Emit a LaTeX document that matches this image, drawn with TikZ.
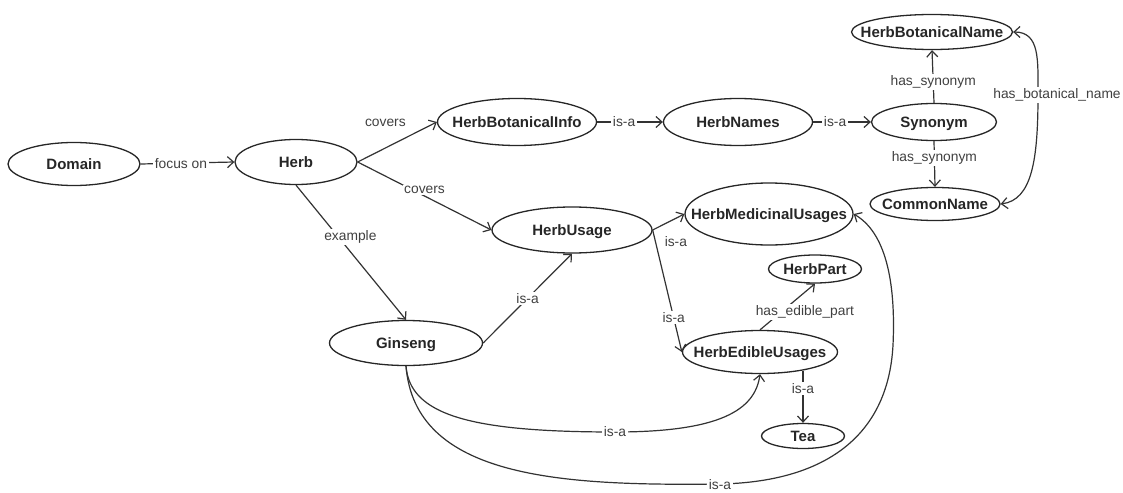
\documentclass[tikz,border=0pt]{standalone}
\usepackage{fontspec}
\setmainfont{Liberation Sans}
\usetikzlibrary{arrows.meta,shapes.geometric}
\newcommand{\nt}[1]{\makebox[0pt]{\raisebox{-.36em}[0pt][0pt]{#1}}}
\begin{document}
\begin{tikzpicture}[x=1pt,y=-1pt,
 onode/.style={draw=black!85, ellipse, inner sep=0pt, line width=1.3pt, font=\fontsize{15}{17}\selectfont\bfseries, text=black!85},
 edge/.style={draw=black!80, line width=1.2pt, -{Straight Barb[length=6pt,width=11pt]}},
 edgetwo/.style={draw=black!80, line width=1.2pt, {Straight Barb[length=6pt,width=11pt]}-{Straight Barb[length=6pt,width=11pt]}},
 lab/.style={fill=white, inner sep=1.5pt, font=\fontsize{13.8}{15}\selectfont, text=black!75},
]
\useasboundingbox (0,0) rectangle (1123,492);
\node[onode, minimum width=132pt, minimum height=43pt] (domain) at (74,164) {\nt{Domain}};
\node[onode, minimum width=122pt, minimum height=45pt] (herb) at (296,162) {\nt{Herb}};
\node[onode, minimum width=159pt, minimum height=47pt] (hbi) at (517,122) {\nt{HerbBotanicalInfo}};
\node[onode, minimum width=149pt, minimum height=47pt] (hn) at (738,122) {\nt{HerbNames}};
\node[onode, minimum width=125pt, minimum height=37pt] (syn) at (934,122) {\nt{Synonym}};
\node[onode, minimum width=161pt, minimum height=35pt] (hbn) at (932,32) {\nt{HerbBotanicalName}};
\node[onode, minimum width=130pt, minimum height=33pt] (cn) at (935,204) {\nt{CommonName}};
\node[onode, minimum width=168pt, minimum height=62pt] (hmu) at (769,214) {\nt{HerbMedicinalUsages}};
\node[onode, minimum width=160pt, minimum height=46pt] (hu) at (572,230) {\nt{HerbUsage}};
\node[onode, minimum width=153pt, minimum height=45pt] (gin) at (406,343) {\nt{Ginseng}};
\node[onode, minimum width=93pt, minimum height=28pt] (hp) at (815,269) {\nt{HerbPart}};
\node[onode, minimum width=155pt, minimum height=43pt] (heu) at (760,352) {\nt{HerbEdibleUsages}};
\node[onode, minimum width=83pt, minimum height=25pt] (tea) at (803,436) {\nt{Tea}};

\draw[edge] (domain.east) -- node[lab,pos=0.43]{focus on} (herb.west);
\draw[edge] (herb.east) -- node[lab,pos=0.35,yshift=25pt,fill=none]{covers} (hbi.west);
\draw[edge] (herb.east) -- node[lab,pos=0.5,yshift=6pt]{covers} (hu.west);
\draw[edge] (herb.south) -- node[lab,pos=0.385,xshift=12pt]{example} (gin.north);
\draw[edge] (gin.east) -- node[lab]{is-a} (hu.south);
\draw[edge] (hbi.east) -- node[lab,pos=0.41]{is-a} (hn.west);
\draw[edge] (hn.east) -- node[lab,pos=0.38]{is-a} (syn.west);
\draw[edge] (syn.north) -- node[lab,pos=0.4]{has\_synonym} (hbn.south);
\draw[edge] (syn.south) -- node[lab,pos=0.36]{has\_synonym} (cn.north);
\draw[edgetwo] (hbn.east) .. controls (1040,32) and (1038,60) .. (1038,95) node[lab,xshift=19pt]{has\_botanical\_name} .. controls (1038,160) and (1032,200) .. (cn.east);
\draw[edge] (hu.east) -- node[lab,pos=0,anchor=north west,xshift=10pt,yshift=-4pt,fill=none]{is-a} (hmu.west);
\draw[edge] (hu.east) -- node[lab,pos=0.72]{is-a} (heu.west);
\draw[edge] (heu.north) -- node[lab,pos=0.38,xshift=24pt]{has\_edible\_part} (hp.south);
\path (heu.south -| tea.north) ++(0,-3) coordinate (teastart);
\draw[edge] (teastart) -- node[lab,pos=0.34]{is-a} (tea.north);
\draw[edge] (gin.south) .. controls (410,415) and (470,432) .. (615,432) node[lab]{is-a} .. controls (720,432) and (755,410) .. (heu.south);
\draw[edge] (gin.south) .. controls (415,478) and (560,486) .. (720,484) node[lab,yshift=-1pt]{is-a} .. controls (820,482) and (888,440) .. (893,345) .. controls (896,280) and (885,232) .. (hmu.east);
\end{tikzpicture}
\end{document}
